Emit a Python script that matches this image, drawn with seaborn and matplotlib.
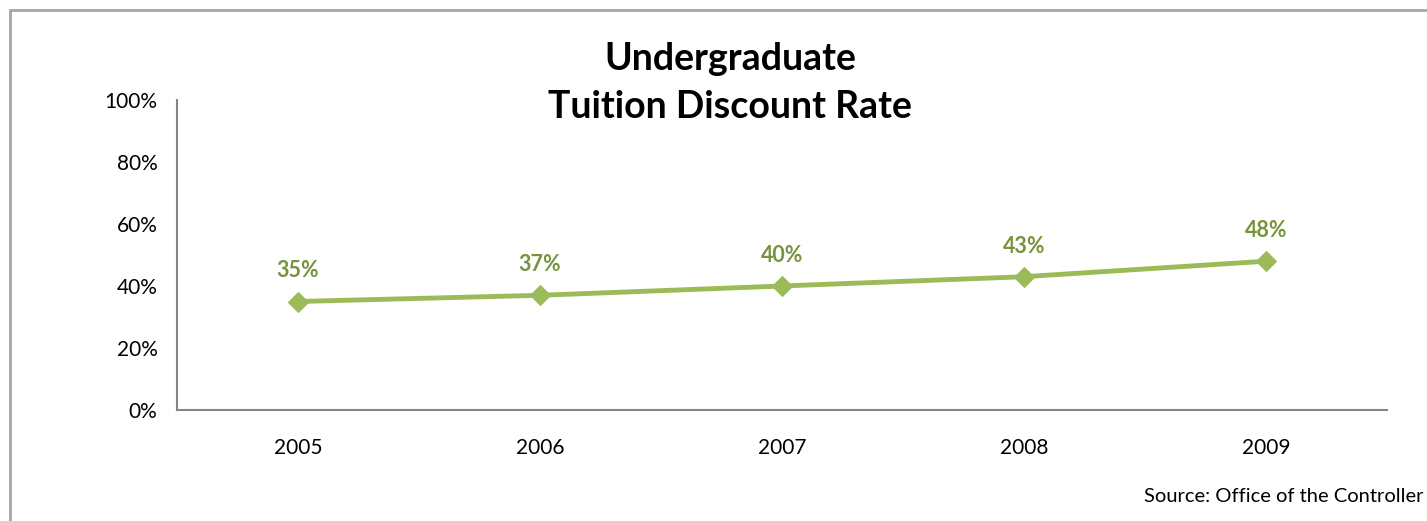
import matplotlib
matplotlib.use("Agg")
import matplotlib.pyplot as plt
from matplotlib.patches import Rectangle
from matplotlib.ticker import PercentFormatter
import pandas as pd
import seaborn as sns

years = ['2005', '2006', '2007', '2008', '2009']
rates = [35, 37, 40, 43, 48]
labels = ['35%', '37%', '40%', '43%', '48%']

sns.set_style('white')
plt.rcParams['font.family'] = ['Lato', 'DejaVu Sans']

df = pd.DataFrame({'year': years, 'rate': rates})

fig = plt.figure(figsize=(14.27, 5.21), dpi=100)
ax = fig.add_axes([177 / 1427, 1 - 410 / 521, 1210 / 1427, 310 / 521])

line_col = '#9BBB59'
lab_col = '#77933C'
sns.lineplot(data=df, x='year', y='rate', ax=ax, color=line_col, lw=3.5,
             marker='D', markersize=10, markeredgecolor=line_col, sort=False)

for i, (v, t) in enumerate(zip(rates, labels)):
    ax.annotate(t, (i, v), xytext=(0, 22), textcoords='offset points',
                ha='center', va='center', color=lab_col, fontsize=15.5,
                fontweight='bold')

ax.set_xlim(-0.5, 4.5)
ax.set_ylim(0, 100)
ax.set_yticks(range(0, 101, 20))
ax.yaxis.set_major_formatter(PercentFormatter(decimals=0))
ax.set_xlabel('')
ax.set_ylabel('')
ax.tick_params(axis='both', labelsize=15, colors='black', length=0)
ax.tick_params(axis='x', pad=20)
ax.tick_params(axis='y', pad=14)
for s in ['top', 'right']:
    ax.spines[s].set_visible(False)
for s in ['left', 'bottom']:
    ax.spines[s].set_color('#868686')
    ax.spines[s].set_linewidth(1.5)

fig.text(730 / 1427, 1 - 83 / 521, 'Undergraduate\nTuition Discount Rate',
         ha='center', va='center', fontsize=27, fontweight='bold',
         color='black', linespacing=1.5)
fig.text(1424 / 1427, 1 - 497 / 521, 'Source: Office of the Controller',
         ha='right', va='center', fontsize=14.5, color='black')

fig.patches.append(Rectangle((9.5 / 1427, -0.1), 1.2, 1 - 9.5 / 521 + 0.1,
                             transform=fig.transFigure, fill=False,
                             edgecolor='#A6A6A6', lw=2))

fig.savefig('out.png', dpi=100)
